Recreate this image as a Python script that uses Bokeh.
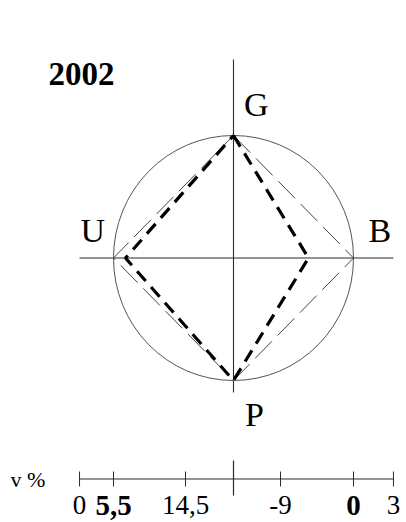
import numpy as np
from bokeh.plotting import figure
from bokeh.core.properties import value
from bokeh.embed import file_html
from bokeh.resources import INLINE

# ---- data ----
year = "2002"
axis_names = ["G", "B", "P", "U"]
axis_angles_deg = [90, 0, 270, 180]
outer_values = [1.0, 1.0, 1.0, 1.0]        # thin dashed (reference square)
inner_values = [1.0, 0.625, 1.0, 0.90]     # thick dashed (2002)
scale_title = "v %"
scale_pos = [-1.283, -1.0, -0.40, 0.0, 0.392, 1.0, 1.333]
scale_labels = ["0", "5,5", "14,5", "", "-9", "0", "3"]
scale_bold = [False, True, False, False, False, True, False]

# ---- geometry of the page (pixels per data unit) ----
W, H = 406, 522
SX, SY = 120.0, 122.5
CX, CY = 233.0, 257.5   # centre of circle inside the figure, px

x0 = -CX / SX
x1 = (W - CX) / SX
y1 = CY / SY
y0 = -(H - CY) / SY

def base(y_px_baseline, font_px):
    # data y for a text whose visible baseline should sit at y_px_baseline
    return (CY - (y_px_baseline - 0.38 * font_px)) / SY

p = figure(width=W, height=H, x_range=(x0, x1), y_range=(y0, y1),
           output_backend="svg", toolbar_location=None, min_border=0,
           outline_line_color=None, background_fill_color="white")
p.axis.visible = False
p.grid.visible = False

FONT = value("Liberation Serif")
LINE = "#2a2a2a"

# axes cross
p.segment(x0=[0], y0=[1.62], x1=[0], y1=[-1.098], line_color=LINE, line_width=1.1)
p.segment(x0=[scale_pos[0]], y0=[0], x1=[scale_pos[-1]], y1=[0], line_color=LINE, line_width=1.1)

# circle
p.ellipse(x=[0], y=[0], width=[2], height=[2], fill_color=None,
          line_color="#555555", line_width=1)

ang = np.radians(axis_angles_deg)
def closed(vals):
    v = np.array(vals)
    xs = list(v * np.cos(ang)) + [v[0] * np.cos(ang[0])]
    ys = list(v * np.sin(ang)) + [v[0] * np.sin(ang[0])]
    return xs, ys

ox, oy = closed(outer_values)
p.line(ox, oy, line_color="#444444", line_width=1, line_dash="24 8")
ix, iy = closed(inner_values)
p.line(ix, iy, line_color="black", line_width=3.2, line_dash="13 8")

# axis letters
lab_x = [0.088, 1.125, 0.096, -1.275]
lab_y = [base(117, 34), base(243, 34), base(427, 34), base(243, 34)]
p.text(x=lab_x, y=lab_y, text=axis_names, text_font=FONT, text_font_size="34px",
       text_baseline="alphabetic", text_align="left", text_color="black")

p.text(x=[-1.542], y=[base(86, 33)], text=[year], text_font=FONT, text_font_size="33px",
       text_font_style="bold", text_baseline="alphabetic", text_color="black")

# bottom scale
ys_line = -1.804
p.segment(x0=[scale_pos[0]], y0=[ys_line], x1=[scale_pos[-1]], y1=[ys_line],
          line_color=LINE, line_width=1)
for pos, lab in zip(scale_pos, scale_labels):
    if lab == "":
        p.segment(x0=[pos], y0=[-1.653], x1=[pos], y1=[-1.939], line_color=LINE, line_width=1.2)
    else:
        p.segment(x0=[pos], y0=[-1.743], x1=[pos], y1=[-1.865], line_color=LINE, line_width=1)

nb = [i for i, b in enumerate(scale_bold) if not b and scale_labels[i]]
bb = [i for i, b in enumerate(scale_bold) if b]
p.text(x=[scale_pos[i] for i in nb], y=[base(515, 27)] * len(nb), text=[scale_labels[i] for i in nb],
       text_font=FONT, text_font_size="27px", text_align="center",
       text_baseline="alphabetic", text_color="black")
p.text(x=[scale_pos[i] for i in bb], y=[base(516, 29)] * len(bb), text=[scale_labels[i] for i in bb],
       text_font=FONT, text_font_size="29px", text_font_style="bold", text_align="center",
       text_baseline="alphabetic", text_color="black")

p.text(x=[-1.858], y=[base(487, 22)], text=[scale_title], text_font=FONT, text_font_size="22px",
       text_baseline="alphabetic", text_color="black")

open("out.html", "w").write(file_html(p, INLINE))
